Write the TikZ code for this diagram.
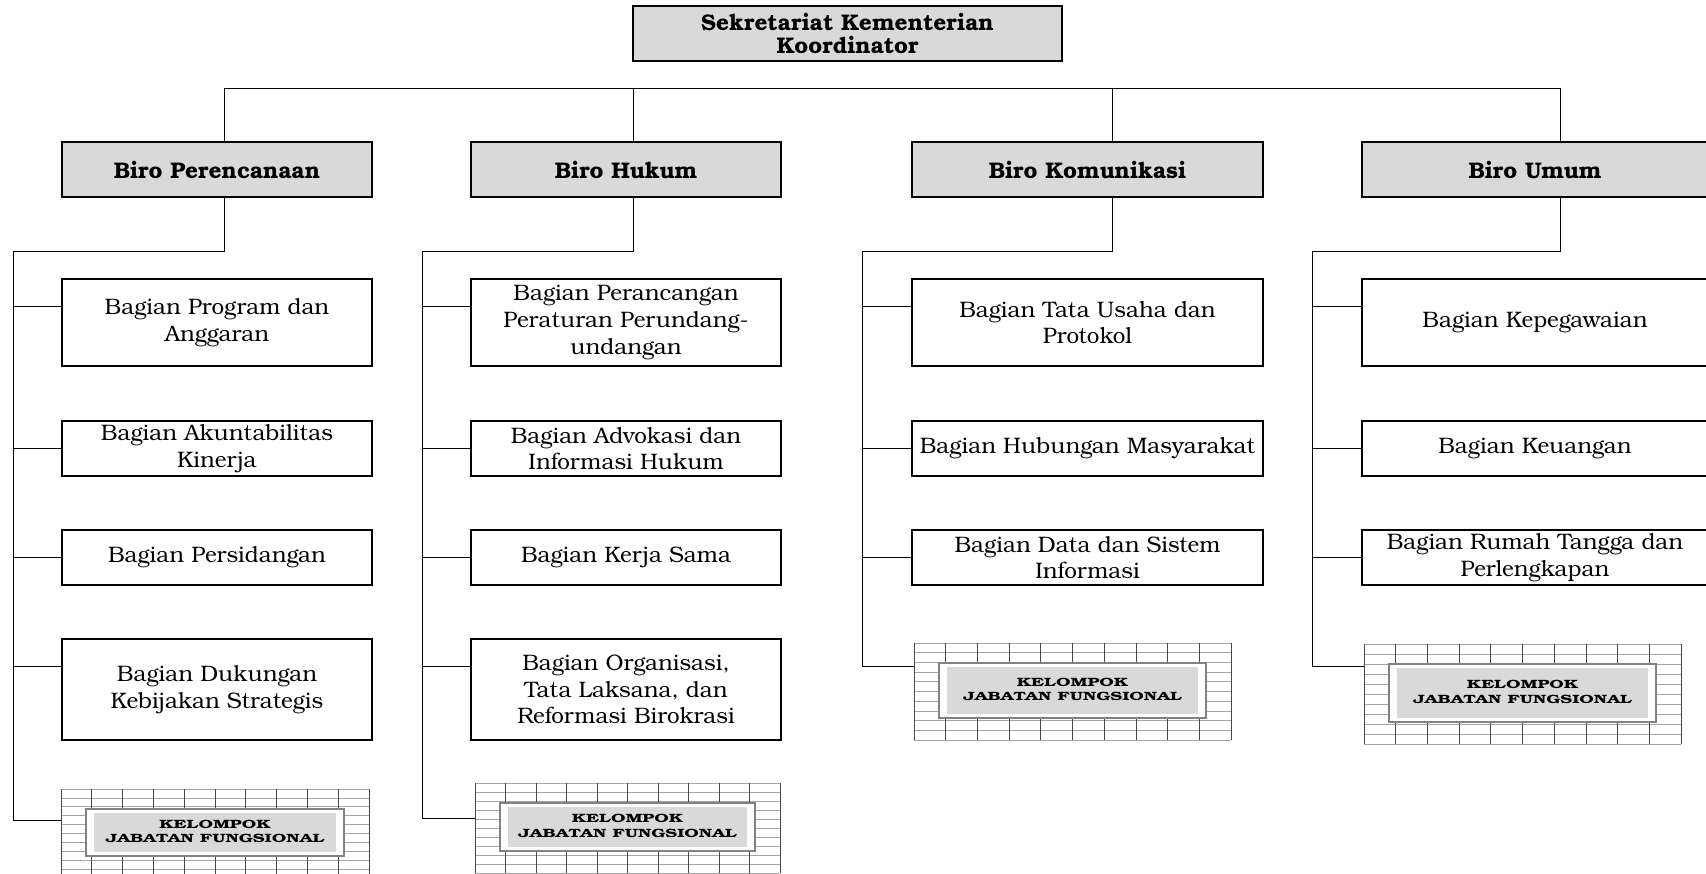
\documentclass[tikz,border=0pt]{standalone}
\usepackage{fontspec}
\setmainfont{texgyrebonum-regular.otf}[BoldFont=texgyrebonum-bold.otf]
\usetikzlibrary{backgrounds}
\definecolor{gray1}{RGB}{217,217,217}
\definecolor{gridrow}{RGB}{165,165,165}
\definecolor{gridcol}{RGB}{70,70,70}
\definecolor{fungedge}{RGB}{130,130,130}

% kelompok jabatan fungsional: name, x, y, width, height, y of the connector
\newcommand{\jabfung}[6]{%
  \node[fung, minimum width=#4*0.5pt, minimum height=#5*0.5pt] (#1) at (#2,#3)
    {\scalebox{1.5}[1]{\begin{tabular}{@{}c@{}}KELOMPOK\\JABATAN FUNGSIONAL\end{tabular}}};
  \pgfmathsetmacro{\fgx}{#2-#4/2-25}
  \pgfmathsetmacro{\fgw}{(#4+50)/10}
  \pgfmathsetmacro{\fgy}{#3-#5/2-20}
  \pgfmathsetmacro{\fgh}{(#5+42)/10}
  \begin{scope}[on background layer]
    \foreach \i in {0,...,10}
      \draw[gridrow, line width=0.4pt] (\fgx,\fgy+\i*\fgh) -- ++(#4+50,0);
    \foreach \i in {0,...,10}
      \draw[gridcol, line width=0.4pt] (\fgx+\i*\fgw,\fgy) -- ++(0,#5+42);
  \end{scope}
  \coordinate (#1in) at (\fgx,#6);
}

\begin{document}
\begin{tikzpicture}[x=0.5pt,y=-0.5pt,line width=0.5pt]
  \tikzstyle{biro}=[rectangle,draw,line width=0.7pt,fill=gray1,inner sep=0pt,align=center,
    font=\fontsize{11.3}{11.6}\selectfont\bfseries,minimum height=27.5pt]
  \tikzstyle{bagian}=[rectangle,draw,line width=0.7pt,fill=white,inner sep=0pt,align=center,
    font=\fontsize{11.2}{13.4}\selectfont]
  \tikzstyle{fung}=[rectangle,draw=fungedge,line width=1pt,fill=white,inner sep=0pt,
    font=\fontsize{6}{7.2}\selectfont\bfseries,
    path picture={\fill[gray1] ([shift={(8,4)}]path picture bounding box.north west)
      rectangle ([shift={(-8,-4)}]path picture bounding box.south east);}]
  \useasboundingbox (0,0) rectangle (1706,873);

  \node[biro, minimum width=214.5pt] (sek) at (847.5,33.5) {Sekretariat Kementerian\\Koordinator};
  \node[biro, minimum width=155pt]   (bp) at (217,169.5)    {Biro Perencanaan};
  \node[biro, minimum width=155pt]   (bh) at (626,169.5)    {Biro Hukum};
  \node[biro, minimum width=175.5pt] (bk) at (1087.5,169.5) {Biro Komunikasi};
  \node[biro, minimum width=173pt]   (bu) at (1535,169.5)   {Biro Umum};

  \node[bagian, minimum width=155pt, minimum height=43.5pt] (p1) at (217,322.5) {Bagian Program dan\\Anggaran};
  \node[bagian, minimum width=155pt, minimum height=27.5pt] (p2) at (217,448.5) {Bagian Akuntabilitas\\Kinerja};
  \node[bagian, minimum width=155pt, minimum height=27.5pt] (p3) at (217,557.5) {Bagian Persidangan};
  \node[bagian, minimum width=155pt, minimum height=50.5pt] (p4) at (217,689.5) {Bagian Dukungan\\Kebijakan Strategis};

  \node[bagian, minimum width=155pt, minimum height=43.5pt] (h1) at (626,322.5) {Bagian Perancangan\\Peraturan Perundang-\\undangan};
  \node[bagian, minimum width=155pt, minimum height=27.5pt] (h2) at (626,448.5) {Bagian Advokasi dan\\Informasi Hukum};
  \node[bagian, minimum width=155pt, minimum height=27.5pt] (h3) at (626,557.5) {Bagian Kerja Sama};
  \node[bagian, minimum width=155pt, minimum height=50.5pt] (h4) at (626,689.5) {Bagian Organisasi,\\Tata Laksana, dan\\Reformasi Birokrasi};

  \node[bagian, minimum width=175.5pt, minimum height=43.5pt] (k1) at (1087.5,322.5) {Bagian Tata Usaha dan\\Protokol};
  \node[bagian, minimum width=175.5pt, minimum height=27.5pt] (k2) at (1087.5,448.5) {Bagian Hubungan Masyarakat};
  \node[bagian, minimum width=175.5pt, minimum height=27.5pt] (k3) at (1087.5,557.5) {Bagian Data dan Sistem\\Informasi};

  \node[bagian, minimum width=173pt, minimum height=43.5pt] (u1) at (1535,322.5) {Bagian Kepegawaian};
  \node[bagian, minimum width=173pt, minimum height=27.5pt] (u2) at (1535,448.5) {Bagian Keuangan};
  \node[bagian, minimum width=173pt, minimum height=27.5pt] (u3) at (1535,557.5) {Bagian Rumah Tangga dan\\Perlengkapan};

  \jabfung{fp}{215}{832.5}{258}{47}{820}
  \jabfung{fh}{627.5}{827}{255}{48}{818}
  \jabfung{fk}{1072.5}{690.5}{267}{55}{666}
  \jabfung{fu}{1522.5}{693}{267}{58}{666}

  % bus below the top box
  \coordinate (t1) at (224,88);
  \coordinate (t2) at (633,88);
  \coordinate (t3) at (1112,88);
  \coordinate (t4) at (1560,88);
  \draw (t1) -- (t4);
  \draw (t1) -- (t1 |- bp.north);
  \draw (t2) -- (t2 |- bh.north);
  \draw (t3) -- (t3 |- bk.north);
  \draw (t4) -- (t4 |- bu.north);

  % spines
  \coordinate (s1) at (13,251);
  \coordinate (s2) at (422,251);
  \coordinate (s3) at (862,251);
  \coordinate (s4) at (1312,251);
  \draw (t1 |- bp.south) |- (s1) |- (fpin);
  \draw (t2 |- bh.south) |- (s2) |- (fhin);
  \draw (t3 |- bk.south) |- (s3) |- (fkin);
  \draw (t4 |- bu.south) |- (s4) |- (fuin);

  \coordinate (cp1) at ([yshift=8.25pt]p1.west);
  \coordinate (cp4) at ([yshift=11.75pt]p4.west);
  \coordinate (ch1) at ([yshift=8.25pt]h1.west);
  \coordinate (ch4) at ([yshift=11.75pt]h4.west);
  \coordinate (ck1) at ([yshift=8.25pt]k1.west);
  \coordinate (cu1) at ([yshift=8.25pt]u1.west);
  \draw (cp1) -- (cp1 -| s1);
  \draw (p2.west) -- (p2.west -| s1);
  \draw (p3.west) -- (p3.west -| s1);
  \draw (cp4) -- (cp4 -| s1);
  \draw (ch1) -- (ch1 -| s2);
  \draw (h2.west) -- (h2.west -| s2);
  \draw (h3.west) -- (h3.west -| s2);
  \draw (ch4) -- (ch4 -| s2);
  \draw (ck1) -- (ck1 -| s3);
  \draw (k2.west) -- (k2.west -| s3);
  \draw (k3.west) -- (k3.west -| s3);
  \draw (cu1) -- (cu1 -| s4);
  \draw (u2.west) -- (u2.west -| s4);
  \draw (u3.west) -- (u3.west -| s4);
\end{tikzpicture}
\end{document}
